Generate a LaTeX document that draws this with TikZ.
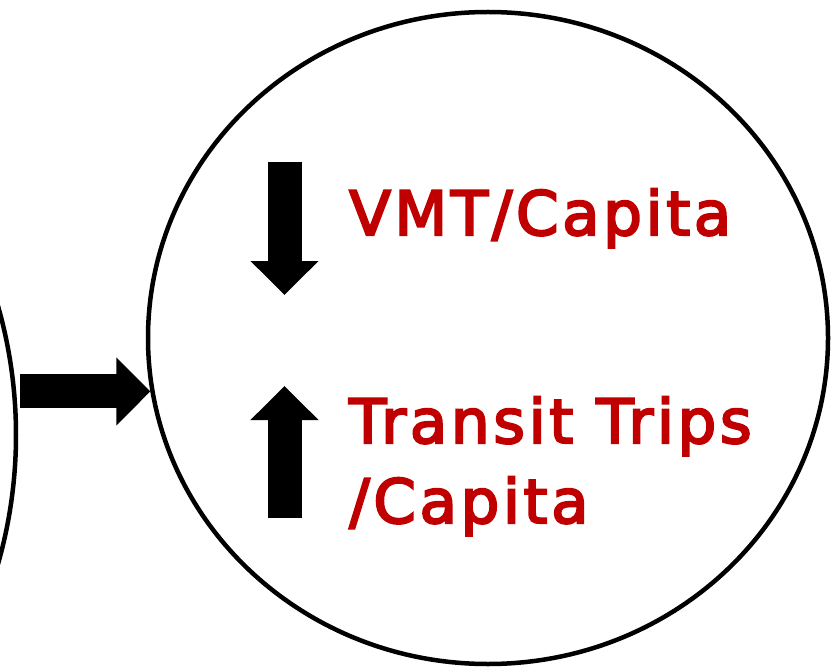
\documentclass[tikz,border=0pt]{standalone}
\usepackage{fontspec}
\usetikzlibrary{arrows.meta,shapes.geometric}
\newfontfamily\lbl[FakeBold=3.5,LetterSpace=6]{DejaVu Sans}
\definecolor{outred}{HTML}{C00000}
\tikzset{
  ring/.style={draw=black, line width=4.5pt, ellipse, inner sep=0pt},
  blockarrow/.style={line width=34pt, -{Triangle[width=66pt,length=34pt]}},
  outcome/.style={anchor=base west, inner sep=0pt, text=outred,
    font=\lbl\fontsize{61}{80}\selectfont}
}
\begin{document}
\begin{tikzpicture}[x=1pt,y=-1pt]
  \useasboundingbox[fill=white] (0,0) rectangle (837,668);
  % previous stage, mostly off the page on the left
  \node[ring, minimum width=936pt, minimum height=936pt] (src) at (-452,435) {};
  % outcome circle
  \node[ring, minimum width=680pt, minimum height=652pt] (goal) at (488,338) {};
  % transition from the previous stage into the outcomes
  \draw[blockarrow, shorten <=2pt] (src.east |- goal.189) -- (goal.189);
  % trend arrows
  \coordinate (dnTop) at (284.5,162);
  \coordinate (dnTip) at (284.5,295);
  \coordinate (upBot) at (284.5,518);
  \coordinate (upTip) at (284.5,386);
  \draw[blockarrow] (dnTop) -- (dnTip);
  \draw[blockarrow] (upBot) -- (upTip);
  % outcome labels
  \node[outcome] (vmt) at (349,235) {VMT/Capita};
  \node[outcome] (trips) at (349,443) {Transit Trips};
  \node[outcome] (tripsb) at (349,523) {/Capita};
\end{tikzpicture}
\end{document}
